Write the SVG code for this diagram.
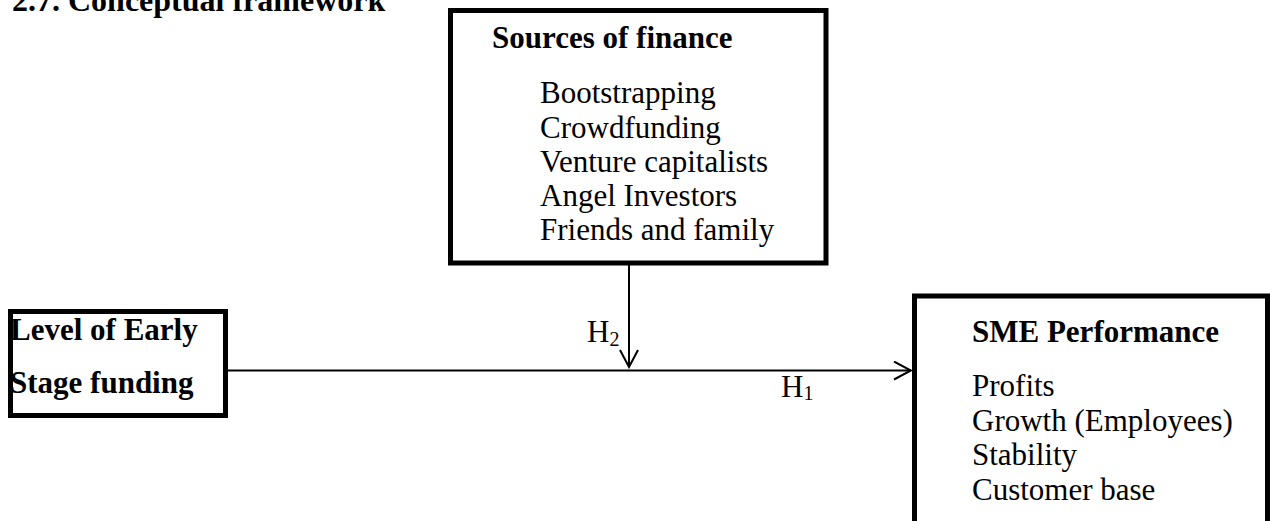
<svg xmlns="http://www.w3.org/2000/svg" width="1270" height="521" viewBox="0 0 1270 521">
<defs>
<style>
.box{fill:none;stroke:#000;stroke-width:5}
.t{font-family:"Liberation Serif","Times New Roman",serif;font-size:31px;fill:#000}
.b{font-weight:bold}
.sub{font-size:20px}
.conn{stroke:#000;stroke-width:2;fill:none}
</style>
<marker id="arr" markerUnits="userSpaceOnUse" markerWidth="20" markerHeight="20" refX="18" refY="10" orient="auto">
<path d="M1,1 L18,10 L1,19" fill="none" stroke="#000" stroke-width="2"/>
</marker>
</defs>
<rect width="1270" height="521" fill="#fff"/>
<text class="t b" x="12" y="11" style="font-size:32px">2.7. Conceptual framework</text>
<g id="sources">
<rect class="box" x="450.5" y="10.5" width="375.5" height="252.5"/>
<text class="t b" x="492" y="48">Sources of finance</text>
<text class="t" x="540" y="103">Bootstrapping</text>
<text class="t" x="540" y="137.5">Crowdfunding</text>
<text class="t" x="540" y="172">Venture capitalists</text>
<text class="t" x="540" y="206">Angel Investors</text>
<text class="t" x="540" y="240">Friends and family</text>
</g>
<g id="early">
<rect class="box" x="10.5" y="311.5" width="215" height="104"/>
<text class="t b" x="10" y="340">Level of Early</text>
<text class="t b" x="10" y="393">Stage funding</text>
</g>
<g id="sme">
<rect class="box" x="914.5" y="296" width="353" height="240"/>
<text class="t b" x="972" y="342">SME Performance</text>
<text class="t" x="972" y="396">Profits</text>
<text class="t" x="972" y="431">Growth (Employees)</text>
<text class="t" x="972" y="465">Stability</text>
<text class="t" x="972" y="500">Customer base</text>
</g>
<g id="connectors">
<line class="conn" x1="228" y1="370.5" x2="911" y2="370.5" marker-end="url(#arr)"/>
<line class="conn" x1="629" y1="265" x2="629" y2="367" marker-end="url(#arr)"/>
<text class="t" x="587" y="342">H<tspan class="sub" dy="4">2</tspan></text>
<text class="t" x="781" y="397">H<tspan class="sub" dy="3">1</tspan></text>
</g>
</svg>
